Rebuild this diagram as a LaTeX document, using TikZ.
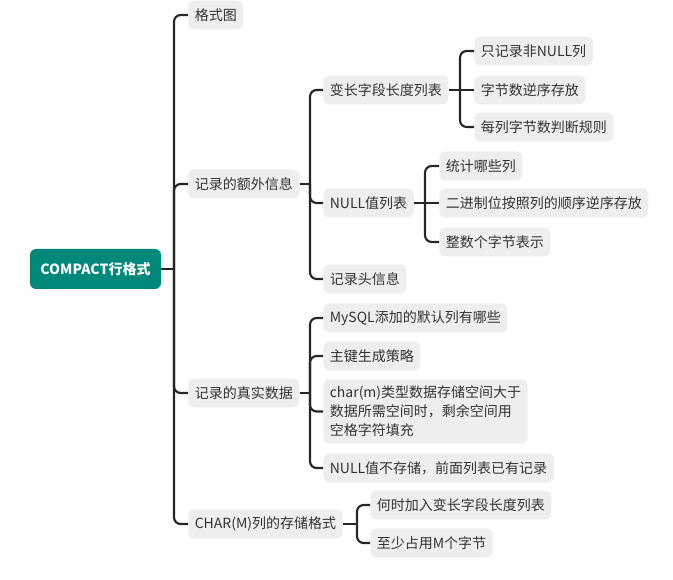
\documentclass[tikz,border=0pt]{standalone}
\usepackage{fontspec}
\setmainfont{Noto Sans CJK SC}
\usetikzlibrary{calc}
\definecolor{rootfill}{HTML}{00897B}
\definecolor{boxfill}{HTML}{EEEEEE}
\definecolor{txt}{HTML}{333333}
\definecolor{linec}{HTML}{262626}
\tikzset{
  topic/.style={fill=boxfill, rounded corners=4.5pt, anchor=west, inner xsep=4.9pt,
    inner ysep=0pt, minimum height=21.75pt, text=txt,
    font=\fontsize{10.5}{14.25}\selectfont},
  roottopic/.style={fill=rootfill, rounded corners=4.5pt, minimum width=98.25pt,
    minimum height=30pt, text=white, font=\fontsize{10.5}{13}\selectfont\bfseries},
  link/.style={draw=linec, line width=1.6pt},
  branch/.style={link, rounded corners=5pt},
}
\begin{document}
\begin{tikzpicture}[x=0.75pt,y=-0.75pt]
\useasboundingbox (0,0) rectangle (673,580);

% central topic
\node[roottopic] (root) at (95.5,269) {COMPACT行格式};

% main branches
\node[topic] (fmt)   at (188,15)  {格式图};
\node[topic] (extra) at (188,184) {记录的额外信息};
\node[topic] (real)  at (188,393) {记录的真实数据};
\node[topic] (charm) at (188,524) {CHAR(M)列的存储格式};

% extra information
\node[topic] (varlen)   at (323,90)  {变长字段长度列表};
\node[topic] (nulllist) at (323,203) {NULL值列表};
\node[topic] (header)   at (323,279) {记录头信息};

\node[topic] (nonnull)  at (474,51)  {只记录非NULL列};
\node[topic] (revbytes) at (474,90)  {字节数逆序存放};
\node[topic] (rule)     at (474,127) {每列字节数判断规则};

\node[topic] (which)    at (439,166) {统计哪些列};
\node[topic] (bits)     at (439,203) {二进制位按照列的顺序逆序存放};
\node[topic] (intbytes) at (439,242) {整数个字节表示};

% real data
\node[topic] (defcols) at (323,318) {MySQL添加的默认列有哪些};
\node[topic] (pk)      at (323,356) {主键生成策略};
\node[topic, align=left, inner ysep=5pt] (pad) at (323,411.5)
  {char(m)类型数据存储空间大于\\数据所需空间时，剩余空间用\\空格字符填充};
\node[topic] (nullnot) at (323,468) {NULL值不存储，前面列表已有记录};

% CHAR(M) storage
\node[topic] (when) at (370,505) {何时加入变长字段长度列表};
\node[topic] (minm) at (370,543) {至少占用M个字节};

% junction points of each branch group
\coordinate (j-root)  at ($(root.east -| fmt.west)+(-14,0)$);
\coordinate (j-extra) at ($(extra.east -| varlen.west)+(-13,0)$);
\coordinate (j-real)  at ($(real.east -| defcols.west)+(-13,0)$);
\coordinate (j-charm) at ($(charm.east -| when.west)+(-13,0)$);
\coordinate (j-var)   at ($(varlen.east -| nonnull.west)+(-14,0)$);
\coordinate (j-null)  at ($(nulllist.east -| which.west)+(-14,0)$);

% connectors
\draw[link] (root.east) -- (j-root);
\draw[link] (extra.east) -- (j-extra);
\draw[link] (real.east) -- (j-real);
\draw[link] (charm.east) -- (j-charm);
\draw[link] (varlen.east) -- (j-var);
\draw[link] (nulllist.east) -- (j-null);

\foreach \c in {fmt,extra,real,charm} \draw[branch] (j-root) |- (\c.west);
\foreach \c in {varlen,nulllist,header} \draw[branch] (j-extra) |- (\c.west);
\foreach \c in {defcols,pk,pad,nullnot} \draw[branch] (j-real) |- (\c.west);
\foreach \c in {when,minm} \draw[branch] (j-charm) |- (\c.west);
\foreach \c in {nonnull,rule} \draw[branch] (j-var) |- (\c.west);
\draw[link] (j-var) -- (revbytes.west);
\foreach \c in {which,intbytes} \draw[branch] (j-null) |- (\c.west);
\draw[link] (j-null) -- (bits.west);
\end{tikzpicture}
\end{document}
